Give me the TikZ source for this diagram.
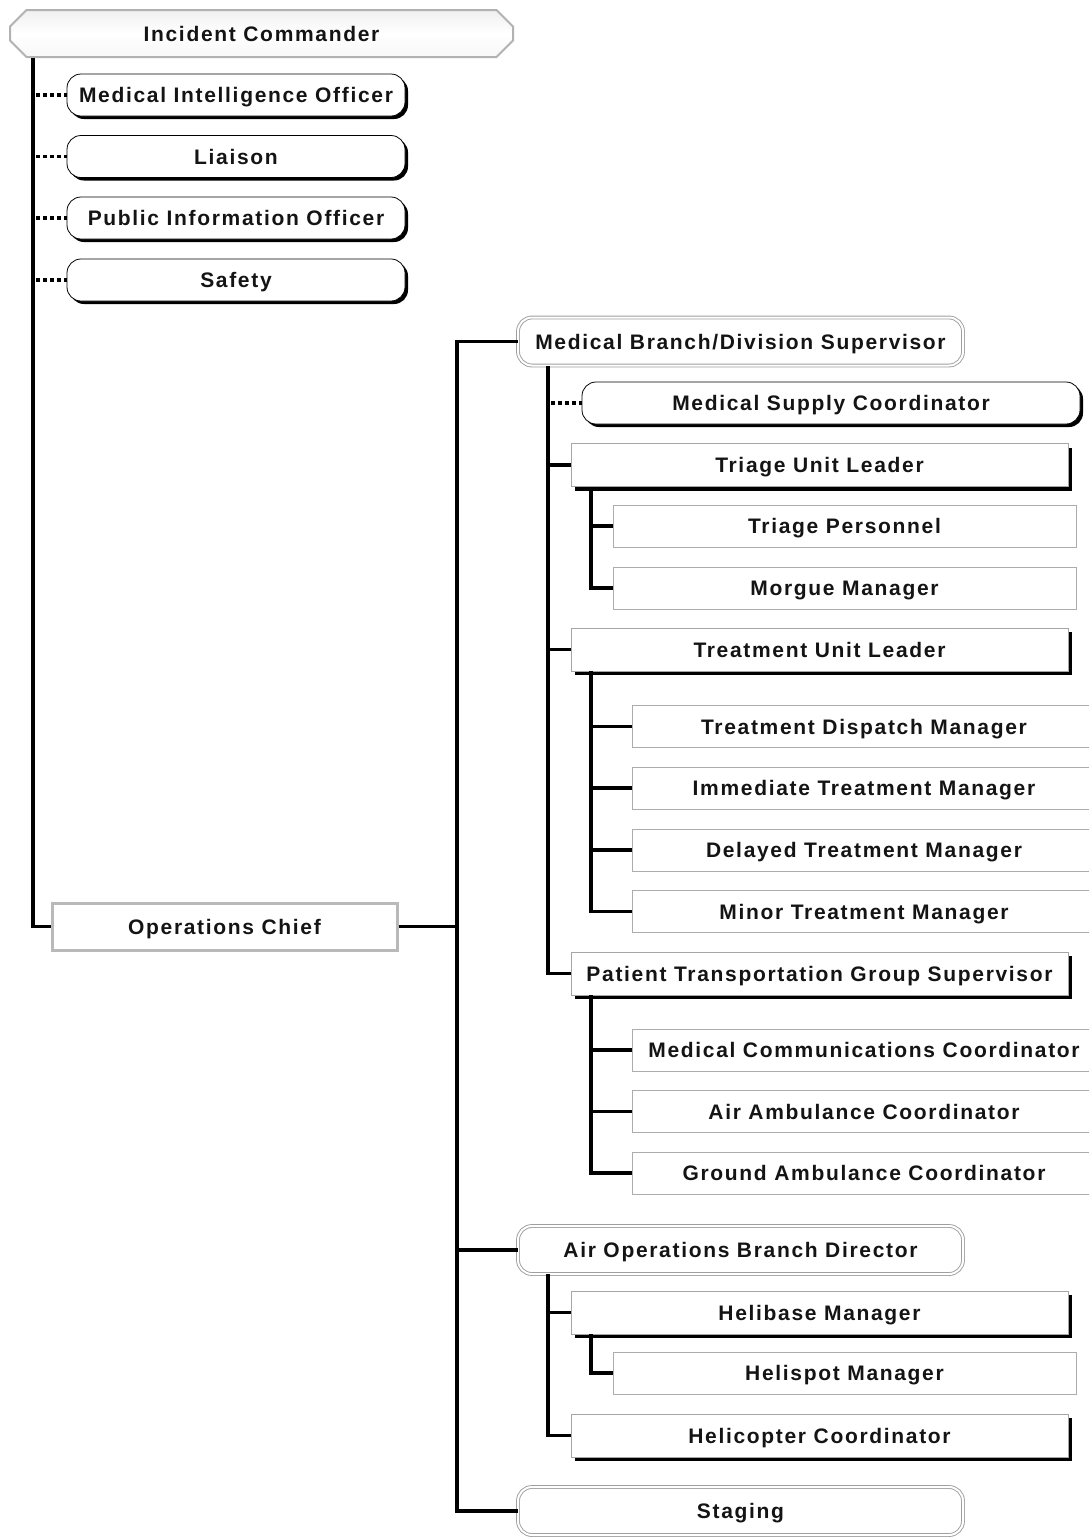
\documentclass[tikz,border=0pt]{standalone}
\usepackage{fontspec}
\newfontfamily\cf{Liberation Sans}[LetterSpace=8]
\usetikzlibrary{shapes.misc,shadows}
\begin{document}
\begin{tikzpicture}[x=1pt,y=-1pt,
  every node/.style={inner sep=0pt, font=\cf\bfseries\fontsize{21}{24}\selectfont, text=black!92,
    text height=15pt, text depth=0pt},
  trunk/.style={line width=3.4pt, line join=miter},
  dotline/.style={line width=3.4pt, dash pattern=on 4pt off 3pt},
  icbox/.style={chamfered rectangle, chamfered rectangle xsep=9pt, chamfered rectangle ysep=9pt,
    draw=gray!60, line width=2pt, top color=gray!12, bottom color=gray!6, middle color=white,
    minimum width=503pt, minimum height=47pt},
  staffbox/.style={draw=black, line width=0.8pt, fill=white, rounded corners=14pt,
    minimum height=42pt,
    drop shadow={shadow xshift=3pt, shadow yshift=-3pt, fill=black, opacity=1}},
  leaderbox/.style={draw=gray!70, line width=0.8pt, fill=white,
    minimum width=497pt, minimum height=43pt,
    drop shadow={shadow xshift=4pt, shadow yshift=-4pt, fill=black, opacity=1}},
  subbox/.style={draw=gray!65, line width=1pt, fill=white, minimum height=42pt},
  dblbox/.style={draw=gray!75, double=white, double distance=2pt, line width=0.9pt,
    rounded corners=14pt, minimum width=445pt, minimum height=48pt},
  opsbox/.style={draw=gray!55, line width=3pt, fill=white, minimum width=345pt, minimum height=47pt}
]
\useasboundingbox (0,0) rectangle (1089,1537);
\clip (0,0) rectangle (1089,1537);
\fill[white] (0,0) rectangle (1089,1537);

\coordinate (t1) at (33,0);
\coordinate (t2) at (457,0);
\coordinate (t3) at (548,0);
\coordinate (t4) at (591,0);

% Incident commander and staff
\node[icbox] (ic) at (261.5,33.5) {Incident Commander};
\node[staffbox, minimum width=338pt] (mio) at (236,95) {Medical Intelligence Officer};
\node[staffbox, minimum width=338pt] (lia) at (236,156.5) {Liaison};
\node[staffbox, minimum width=338pt] (pio) at (236,218) {Public Information Officer};
\node[staffbox, minimum width=338pt] (saf) at (236,280) {Safety};
\node[opsbox] (ops) at (224.5,926.5) {Operations Chief};

% Medical branch
\node[dblbox] (mbds) at (740.5,341.5) {Medical Branch/Division Supervisor};
\node[staffbox, minimum width=498pt] (msc) at (831,403) {Medical Supply Coordinator};
\node[leaderbox] (tul) at (819.5,465) {Triage Unit Leader};
\node[subbox, minimum width=463pt] (tp) at (844.5,526) {Triage Personnel};
\node[subbox, minimum width=463pt] (mm) at (844.5,588) {Morgue Manager};
\node[leaderbox] (trul) at (819.5,649.5) {Treatment Unit Leader};
\node[subbox, minimum width=464pt] (tdm) at (864,726.5) {Treatment Dispatch Manager};
\node[subbox, minimum width=464pt] (itm) at (864,788) {Immediate Treatment Manager};
\node[subbox, minimum width=464pt] (dtm) at (864,850) {Delayed Treatment Manager};
\node[subbox, minimum width=464pt] (mtm) at (864,911.5) {Minor Treatment Manager};
\node[leaderbox] (ptgs) at (819.5,973.5) {Patient Transportation Group Supervisor};
\node[subbox, minimum width=464pt] (mcc) at (864,1050) {Medical Communications Coordinator};
\node[subbox, minimum width=464pt] (aac) at (864,1111.5) {Air Ambulance Coordinator};
\node[subbox, minimum width=464pt] (gac) at (864,1173) {Ground Ambulance Coordinator};

% Air operations
\node[dblbox] (aobd) at (740.5,1250) {Air Operations Branch Director};
\node[leaderbox] (hbm) at (819.5,1312.5) {Helibase Manager};
\node[subbox, minimum width=463pt] (hsm) at (844.5,1373) {Helispot Manager};
\node[leaderbox] (hc) at (819.5,1435.5) {Helicopter Coordinator};
\node[dblbox] (stg) at (740.5,1511) {Staging};

% Connectors
\draw[trunk] (ic.south -| t1) |- (ops.west);
\foreach \n in {mio,lia,pio,saf} \draw[dotline] ([xshift=3pt]\n.west -| t1) -- (\n.west);

\draw[trunk] (ops.east) -- (ops.east -| t2);
\draw[trunk] (mbds.west) -| (stg.west -| t2) -- (stg.west);
\draw[trunk] (aobd.west) -- (aobd.west -| t2);

\draw[trunk] (mbds.south -| t3) |- (ptgs.west);
\draw[dotline] ([xshift=3pt]msc.west -| t3) -- (msc.west);
\draw[trunk] (tul.west -| t3) -- (tul.west);
\draw[trunk] (trul.west -| t3) -- (trul.west);

\draw[trunk] (tul.south -| t4) |- (mm.west);
\draw[trunk] (tp.west -| t4) -- (tp.west);

\draw[trunk] (trul.south -| t4) |- (mtm.west);
\foreach \n in {tdm,itm,dtm} \draw[trunk] (\n.west -| t4) -- (\n.west);

\draw[trunk] (ptgs.south -| t4) |- (gac.west);
\foreach \n in {mcc,aac} \draw[trunk] (\n.west -| t4) -- (\n.west);

\draw[trunk] (aobd.south -| t3) |- (hc.west);
\draw[trunk] (hbm.west -| t3) -- (hbm.west);
\draw[trunk] (hbm.south -| t4) |- (hsm.west);
\end{tikzpicture}
\end{document}
